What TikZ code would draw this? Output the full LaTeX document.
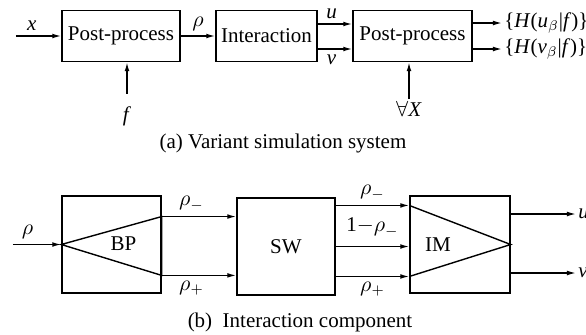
\documentclass[tikz,border=0pt]{standalone}
\usepackage{fontspec}
\setmainfont{Liberation Serif}
\usetikzlibrary{arrows.meta, calc}

% italic variables in the text face
\newcommand{\var}[1]{\textit{#1}}

\begin{document}
\begin{tikzpicture}[x=0.5pt, y=-0.5pt, font=\fontsize{10.5}{12}\selectfont,
    blk/.style={draw, line width=0.7pt, inner sep=0pt},
    sig/.style={line width=0.7pt, -{Latex[length=4.5pt, width=2.4pt]}},
    lbl/.style={inner sep=2.5pt}]
  \useasboundingbox (0,0) rectangle (586,334);
  % (a) simulation chain
  \node[blk, minimum width=59pt, minimum height=25.5pt] (pp1) at (121,36) {Post-process};
  \node[blk, minimum width=50.5pt, minimum height=25.5pt] (ia) at (266.5,36) {Interaction};
  \node[blk, minimum width=59.5pt, minimum height=25.5pt] (pp2) at (412.5,36) {Post-process};
  \coordinate (xin) at (16,36);
  \draw[sig] (xin) -- node[lbl, above, pos=0.35] {\var{x}} (pp1.west);
  \draw[sig] (pp1.east) -- node[lbl, above] {$\rho$} (ia.west);
  \draw[sig] ([yshift=6pt]ia.east) -- node[lbl, above, pos=0.4] {\var{u}} ([yshift=6pt]pp2.west);
  \draw[sig] ([yshift=-6.5pt]ia.east) -- node[lbl, below, pos=0.4] {\var{v}} ([yshift=-6.5pt]pp2.west);
  % outputs
  \node[anchor=west, inner sep=1pt] (hu) at (502,23) {\{\var{H}(\var{u}$_\beta$|\var{f})\}};
  \node[anchor=west, inner sep=1pt] (hv) at (502,49) {\{\var{H}(\var{v}$_\beta$|\var{f})\}};
  \draw[sig] (pp2.east |- hu.west) -- (hu.west);
  \draw[sig] (pp2.east |- hv.west) -- (hv.west);
  % side inputs
  \node[inner sep=1pt] (fin) at (127,116) {\var{f}};
  \node[inner sep=1pt] (allx) at (409,109) {$\forall$\var{X}};
  \draw[sig] ([yshift=5pt]fin.north) -- (fin.north |- pp1.south);
  \draw[sig] (allx.north) -- (allx.north |- pp2.south);
  \node (capa) at (283,143) {(a) Variant simulation system};

  % (b) interaction component
  \node[blk, minimum width=49.5pt, minimum height=48.5pt] (bp) at (111.5,244.5) {};
  \node[blk, minimum width=49pt, minimum height=48.5pt] (sw) at (286,246.5) {SW};
  \node[blk, minimum width=50pt, minimum height=48.5pt] (im) at (460,244.5) {};
  % splitter and mixer wedges
  \coordinate (bpt) at ($(bp.north east)!0.216!(bp.south east)$);
  \coordinate (bpb) at ($(bp.north east)!0.814!(bp.south east)$);
  \draw[line width=0.7pt] (bp.west) -- (bpt) -- (bpb) -- cycle;
  \node at ($(bp.center)+(12,-1)$) {BP};
  \coordinate (imt) at ($(im.north west)!0.103!(im.south west)$);
  \coordinate (imb) at ($(im.north west)!0.825!(im.south west)$);
  \draw[line width=0.7pt] (imt) -- (im.east) -- (imb);
  \node at ($(im.center)+(-22,0)$) {IM};
  % signals
  \coordinate (rin) at (13,244.5);
  \draw[sig] (rin) -- node[lbl, above, pos=0.3] {$\rho$} (bp.west);
  \draw[sig] (bpt) -- node[lbl, above, pos=0.4] {$\rho_-$} (bpt -| sw.west);
  \draw[sig] (bpb) -- node[lbl, below, pos=0.4] {$\rho_+$} (bpb -| sw.west);
  \draw[sig] (imt -| sw.east) -- node[lbl, above] {$\rho_-$} (imt);
  \draw[sig] (sw.east) -- node[lbl, above, yshift=2pt] {1$-\rho_-$} (sw.east -| im.west);
  \draw[sig] (imb -| sw.east) -- node[lbl, below] {$\rho_+$} (imb);
  \node[anchor=west, inner sep=1pt] (uo) at (576,214) {\var{u}};
  \node[anchor=west, inner sep=1pt] (vo) at (576,273) {\var{v}};
  \draw[sig] (im.east |- uo.west) -- (uo.west);
  \draw[sig] (im.east |- vo.west) -- (vo.west);
  \node (capb) at (300,322) {(b)\ \ Interaction component};
\end{tikzpicture}
\end{document}
